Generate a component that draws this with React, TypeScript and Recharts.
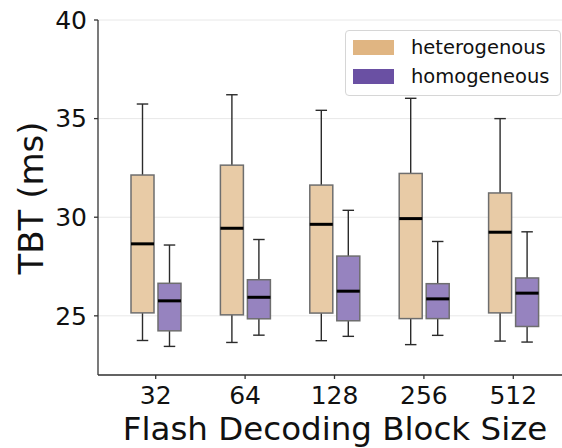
import React from 'react';
import { ComposedChart, Bar, XAxis, YAxis, CartesianGrid } from 'recharts';

const categories = ['32', '64', '128', '256', '512'];

const hetMin = [23.75, 23.65, 23.74, 23.54, 23.72];
const hetQ1 = [25.15, 25.05, 25.14, 24.86, 25.15];
const hetMed = [28.65, 29.44, 29.64, 29.93, 29.24];
const hetQ3 = [32.14, 32.64, 31.63, 32.22, 31.23];
const hetMax = [35.74, 36.21, 35.42, 36.03, 35.0];

const homMin = [23.45, 24.02, 23.96, 24.01, 23.67];
const homQ1 = [24.24, 24.85, 24.75, 24.86, 24.46];
const homMed = [25.76, 25.94, 26.25, 25.86, 26.15];
const homQ3 = [26.65, 26.83, 28.03, 26.63, 26.92];
const homMax = [28.59, 28.87, 30.35, 28.77, 29.26];

const yTicks = [25, 30, 35, 40];

const seriesNames = ['heterogenous', 'homogeneous'];

const rows = categories.map((c, i) => ({
  cat: c,
  het: [hetMin[i], hetMax[i]],
  hom: [homMin[i], homMax[i]],
  hetStats: { min: hetMin[i], q1: hetQ1[i], med: hetMed[i], q3: hetQ3[i], max: hetMax[i] },
  homStats: { min: homMin[i], q1: homQ1[i], med: homMed[i], q3: homQ3[i], max: homMax[i] },
}));

const FONT = '"DejaVu Sans", sans-serif';

const makeBox = (statsKey: string, fill: string) => (props: any) => {
  const { x, y, width, height, payload } = props;
  const s = payload[statsKey];
  if (!s) return null;
  const top = Math.min(y, y + height);
  const h = Math.abs(height);
  const span = s.max - s.min;
  const py = (v: number) => top + ((s.max - v) * h) / span;
  const cx = x + width / 2;
  const capHalf = width / 4;
  const wStroke = '#2b2b2b';
  return (
    <g>
      <line x1={cx} x2={cx} y1={py(s.max)} y2={py(s.q3)} stroke={wStroke} strokeWidth={1.4} />
      <line x1={cx} x2={cx} y1={py(s.q1)} y2={py(s.min)} stroke={wStroke} strokeWidth={1.4} />
      <line x1={cx - capHalf} x2={cx + capHalf} y1={py(s.max)} y2={py(s.max)} stroke={wStroke} strokeWidth={1.4} />
      <line x1={cx - capHalf} x2={cx + capHalf} y1={py(s.min)} y2={py(s.min)} stroke={wStroke} strokeWidth={1.4} />
      <rect x={x} y={py(s.q3)} width={width} height={py(s.q1) - py(s.q3)} fill={fill} stroke="#6e6e6e" strokeWidth={1.5} />
      <line x1={x} x2={x + width} y1={py(s.med)} y2={py(s.med)} stroke="#000" strokeWidth={3} />
    </g>
  );
};

const HetBox = makeBox('hetStats', '#e8cba6');
const HomBox = makeBox('homStats', '#9683bf');

const legendColors = ['#e0b582', '#6a50a3'];

export default function App() {
  return (
    <div style={{ position: 'absolute', left: 0, top: 0, width: 562, height: 448, fontFamily: FONT, background: '#fff' }}>
      <ComposedChart
        width={562}
        height={448}
        data={rows}
        margin={{ top: 20, right: 0, bottom: 0, left: 0 }}
        barGap={4}
      >
        <CartesianGrid horizontal vertical={false} stroke="#e8e8e8" strokeWidth={1} />
        <XAxis
          dataKey="cat"
          type="category"
          height={73}
          interval={0}
          padding={{ left: 13, right: 4 }}
          tickSize={4}
          tickMargin={7}
          tick={{ fontSize: 25, fill: '#111', fontFamily: FONT }}
          axisLine={{ stroke: '#333', strokeWidth: 1.3 }}
          tickLine={{ stroke: '#333', strokeWidth: 1.3 }}
        />
        <YAxis
          width={98}
          type="number"
          domain={[22, 40]}
          ticks={yTicks}
          allowDataOverflow
          tickSize={4}
          tickMargin={7}
          tick={{ fontSize: 25, fill: '#111', fontFamily: FONT }}
          axisLine={{ stroke: '#333', strokeWidth: 1.3 }}
          tickLine={{ stroke: '#333', strokeWidth: 1.3 }}
        />
        <Bar dataKey="het" name={seriesNames[0]} barSize={23} shape={HetBox} isAnimationActive={false} />
        <Bar dataKey="hom" name={seriesNames[1]} barSize={23} shape={HomBox} isAnimationActive={false} />
      </ComposedChart>
      <svg width={562} height={448} style={{ position: 'absolute', left: 0, top: 0, pointerEvents: 'none' }}>
        <text
          x={43}
          y={198}
          transform="rotate(-90, 43, 198)"
          textAnchor="middle"
          fontSize={34}
          fill="#111"
          fontFamily={FONT}
        >
          TBT (ms)
        </text>
        <text x={335} y={440} textAnchor="middle" fontSize={32.5} fill="#111" fontFamily={FONT}>
          Flash Decoding Block Size
        </text>
      </svg>
      <div
        style={{
          position: 'absolute',
          left: 345,
          top: 30,
          width: 214,
          height: 64,
          border: '1px solid #d6d6d6',
          borderRadius: 4,
          background: 'rgba(255,255,255,0.85)',
          boxSizing: 'content-box',
        }}
      >
        {seriesNames.map((n, i) => (
          <div key={n} style={{ position: 'absolute', left: 7, top: 9 + i * 29, height: 15, display: 'flex', alignItems: 'center' }}>
            <div style={{ width: 41, height: 15, background: legendColors[i] }} />
            <span style={{ marginLeft: 17, fontSize: 19.5, color: '#111', fontFamily: FONT, lineHeight: '15px' }}>{n}</span>
          </div>
        ))}
      </div>
    </div>
  );
}
